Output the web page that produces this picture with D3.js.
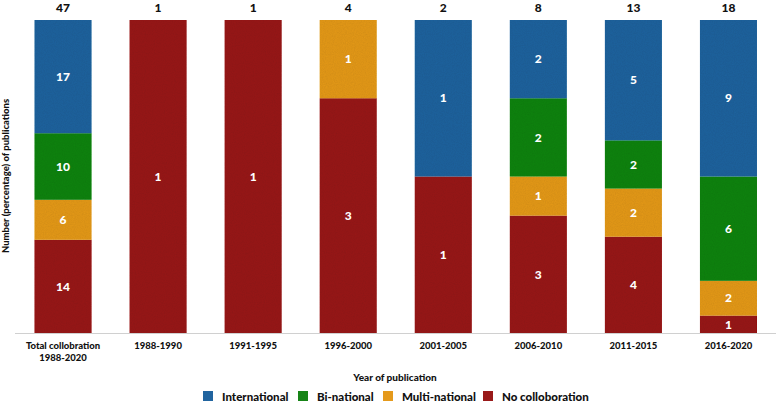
<!DOCTYPE html>
<html><head><meta charset="utf-8">
<script src="https://cdn.jsdelivr.net/npm/d3@7"></script>
<style>body{margin:0;background:#fff}svg{display:block;font-family:Lato,sans-serif}</style>
</head><body><svg id="c" width="776" height="402"></svg>
<script>
const categories = ["Total collobration\n1988-2020","1988-1990","1991-1995","1996-2000","2001-2005","2006-2010","2011-2015","2016-2020"];
const international = [17,0,0,0,1,2,5,9];
const binational    = [10,0,0,0,0,2,2,6];
const multinational = [6,0,0,1,0,1,2,2];
const noCollab      = [14,1,1,3,1,3,4,1];
const seriesNames = ["No colloboration","Multi-national","Bi-national","International"];
const legendOrder = ["International","Bi-national","Multi-national","No colloboration"];
const colors = {"International":"#21649f","Bi-national":"#178417","Multi-national":"#e59a1c","No colloboration":"#991a1a"};

const rows = categories.map((c,i)=>({cat:c,"International":international[i],"Bi-national":binational[i],"Multi-national":multinational[i],"No colloboration":noCollab[i]}));
rows.forEach(r=>{r.total=seriesNames.reduce((s,k)=>s+r[k],0);});
const norm = rows.map(r=>{const o={cat:r.cat,total:r.total};seriesNames.forEach(k=>o[k]=r[k]/r.total);return o;});
const stack = d3.stack().keys(seriesNames)(norm);

const svg = d3.select("#c");
const defs = svg.append("defs");
const f = defs.append("filter").attr("id","tex").attr("x",0).attr("y",0).attr("width",1).attr("height",1);
f.append("feTurbulence").attr("type","fractalNoise").attr("baseFrequency",0.9).attr("numOctaves",2).attr("result","n");
f.append("feColorMatrix").attr("in","n").attr("type","matrix").attr("values","0 0 0 0 0  0 0 0 0 0  0 0 0 0 0  0 0 0 0.18 0").attr("result","a");
f.append("feComposite").attr("in","a").attr("in2","SourceGraphic").attr("operator","in").attr("result","b");
f.append("feMerge").selectAll("feMergeNode").data(["SourceGraphic","b"]).enter().append("feMergeNode").attr("in",d=>d);

const x = d3.scaleBand().domain(categories).range([15.5,776]).paddingInner(0.4).paddingOuter(0.2);
const y = d3.scaleLinear().domain([0,1]).range([333,20]);

svg.append("line").attr("x1",15).attr("x2",776).attr("y1",333.5).attr("y2",333.5).attr("stroke","#d0d0d0").attr("stroke-width",1);

const g = svg.append("g");
stack.forEach(s=>{
  const key=s.key;
  g.selectAll(null).data(s.filter(d=>d[1]-d[0]>0)).enter().append("rect")
    .attr("x",d=>x(d.data.cat)).attr("width",x.bandwidth())
    .attr("y",d=>y(d[1])).attr("height",d=>y(d[0])-y(d[1]))
    .attr("fill",colors[key]).attr("filter","url(#tex)");
  g.selectAll(null).data(s.filter(d=>d[1]-d[0]>0)).enter().append("text")
    .attr("x",d=>x(d.data.cat)+x.bandwidth()/2).attr("y",d=>(y(d[0])+y(d[1]))/2)
    .attr("dy","0.35em").attr("text-anchor","middle").attr("fill","#fff")
    .attr("font-weight",900).attr("font-size",12)
    .text(d=>rows.find(r=>r.cat===d.data.cat)[key]);
});

svg.selectAll(".tot").data(rows).enter().append("text")
  .attr("x",d=>x(d.cat)+x.bandwidth()/2).attr("y",12)
  .attr("text-anchor","middle").attr("font-weight",900).attr("font-size",12).attr("fill","#111").text(d=>d.total);

const xt = svg.selectAll(".xl").data(categories).enter().append("text")
  .attr("x",d=>x(d)+x.bandwidth()/2).attr("y",349).attr("text-anchor","middle")
  .attr("font-weight",900).attr("font-size",9.5).attr("fill","#111");
xt.each(function(d){const t=d3.select(this);d.split("\n").forEach((l,i)=>t.append("tspan").attr("x",x(d)+x.bandwidth()/2).attr("dy",i?12:0).text(l));});

svg.append("text").attr("x",395).attr("y",381).attr("text-anchor","middle").attr("font-weight",900).attr("font-size",10).attr("fill","#111").text("Year of publication");
svg.append("text").attr("transform","translate(9,176) rotate(-90)").attr("text-anchor","middle").attr("font-weight",900).attr("font-size",9.5).attr("fill","#111").text("Number (percentage) of publications");

const lx=[203,298,383,483];
const lg = svg.selectAll(".lg").data(legendOrder).enter().append("g").attr("transform",(d,i)=>`translate(${lx[i]},391)`);
lg.append("rect").attr("width",10).attr("height",10).attr("fill",d=>colors[d]);
lg.append("text").attr("x",19).attr("y",9.5).attr("font-weight",900).attr("font-size",11.5).attr("fill","#111").text(d=>d);
</script></body></html>
